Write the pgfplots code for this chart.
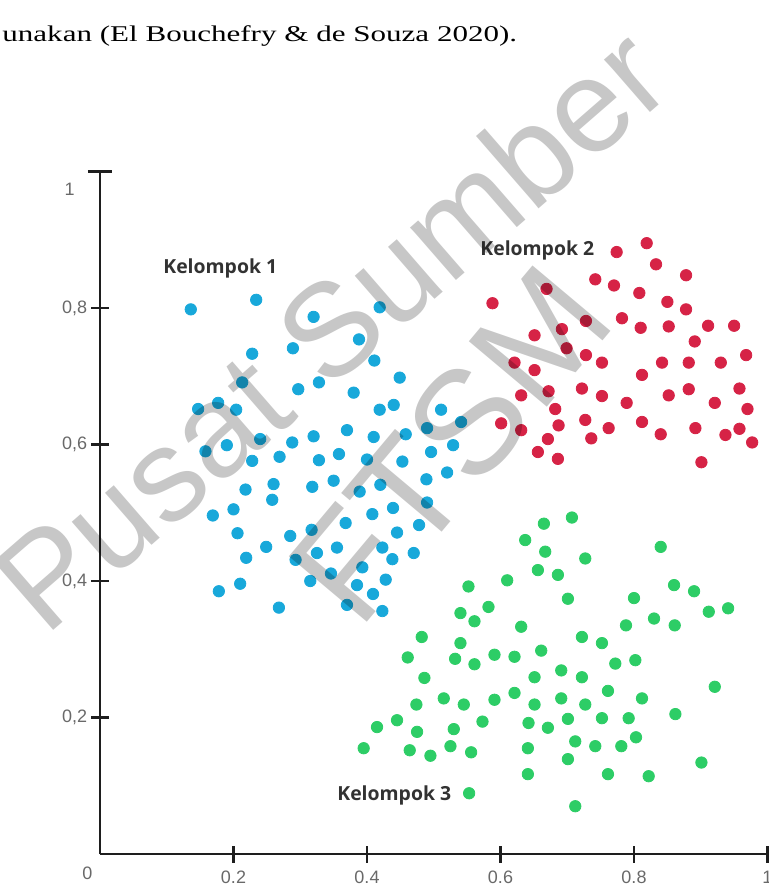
\documentclass[border=0pt]{standalone}
\usepackage{graphicx}
\usepackage{fontspec}
\setmainfont{Liberation Serif}
\newfontfamily\ticksf{Liberation Sans}
\newfontfamily\labsf{Open Sans}
\usepackage{pgfplots}
\pgfplotsset{compat=1.18}
\definecolor{cblue}{RGB}{24,168,218}
\definecolor{cred}{RGB}{214,35,70}
\definecolor{cgreen}{RGB}{45,205,102}
\definecolor{axiscol}{RGB}{30,30,30}
\definecolor{tickcol}{RGB}{105,105,105}
\definecolor{labcol}{RGB}{50,50,50}
\begin{document}
\begin{tikzpicture}
\begin{axis}[
  at={(50pt,-427pt)}, anchor=south west,
  scale only axis, width=333.75pt, height=341.25pt,
  xmin=0, xmax=1, ymin=0, ymax=1,
  axis lines=left,
  axis line style={-, line width=1.4pt, color=axiscol},
  clip=false,
  xtick={0.2,0.4,0.6,0.8,1}, xticklabels={0.2,0.4,0.6,0.8,1},
  ytick={0.2,0.4,0.6,0.8}, yticklabels={{0,2},{0,4},{0,6},{0,8}},
  extra y ticks={1}, extra y tick labels={},
  extra y tick style={major tick length=12pt},
  tick align=center, major tick length=8.5pt,
  every tick/.style={line width=1.4pt, color=axiscol},
  xticklabel style={anchor=north, inner sep=0pt, yshift=-4pt,
    font=\ticksf\fontsize{9}{9}\selectfont, text=tickcol},
  yticklabel style={anchor=east, inner sep=0pt, xshift=-2pt,
    font=\ticksf\fontsize{9}{9}\selectfont, text=tickcol},
]
% Kelompok 1
\addplot[only marks, mark=*, mark size=2.85pt, color=cblue, mark options={draw=cblue, fill=cblue}] coordinates {
(0.136,0.798) (0.234,0.812) (0.320,0.787) (0.419,0.801) (0.228,0.733) (0.289,0.741)
(0.388,0.754) (0.411,0.723) (0.213,0.691) (0.297,0.681) (0.328,0.691) (0.380,0.676)
(0.449,0.698) (0.147,0.652) (0.177,0.661) (0.204,0.651) (0.419,0.651) (0.440,0.658)
(0.511,0.651) (0.541,0.633) (0.240,0.608) (0.190,0.599) (0.158,0.590) (0.288,0.603)
(0.320,0.612) (0.370,0.621) (0.410,0.611) (0.458,0.615) (0.490,0.624) (0.529,0.599)
(0.228,0.576) (0.269,0.582) (0.328,0.577) (0.358,0.586) (0.400,0.578) (0.453,0.575)
(0.496,0.589) (0.520,0.559) (0.218,0.534) (0.260,0.542) (0.258,0.519) (0.318,0.538)
(0.350,0.547) (0.389,0.531) (0.420,0.541) (0.489,0.549) (0.490,0.515) (0.169,0.496)
(0.200,0.505) (0.408,0.498) (0.439,0.507) (0.206,0.470) (0.285,0.466) (0.317,0.475)
(0.368,0.485) (0.445,0.471) (0.478,0.482) (0.249,0.450) (0.219,0.434) (0.293,0.431)
(0.325,0.441) (0.355,0.449) (0.423,0.449) (0.438,0.432) (0.470,0.441) (0.346,0.411)
(0.393,0.420) (0.315,0.400) (0.210,0.396) (0.178,0.385) (0.385,0.394) (0.428,0.402)
(0.409,0.381) (0.268,0.361) (0.370,0.365) (0.423,0.356)
};
% Kelompok 2
\addplot[only marks, mark=*, mark size=2.85pt, color=cred, mark options={draw=cred, fill=cred}] coordinates {
(0.774,0.882) (0.819,0.895) (0.833,0.864) (0.878,0.848) (0.742,0.842) (0.770,0.833)
(0.669,0.828) (0.588,0.807) (0.808,0.822) (0.850,0.809) (0.878,0.798) (0.728,0.781)
(0.782,0.785) (0.810,0.771) (0.852,0.773) (0.911,0.774) (0.950,0.774) (0.651,0.760)
(0.692,0.769) (0.891,0.751) (0.699,0.741) (0.728,0.731) (0.752,0.720) (0.621,0.720)
(0.651,0.709) (0.842,0.720) (0.882,0.720) (0.930,0.720) (0.968,0.731) (0.812,0.702)
(0.631,0.672) (0.672,0.678) (0.722,0.682) (0.752,0.671) (0.789,0.661) (0.852,0.672)
(0.882,0.681) (0.958,0.682) (0.921,0.661) (0.970,0.652) (0.682,0.652) (0.601,0.631)
(0.631,0.621) (0.687,0.628) (0.727,0.636) (0.762,0.624) (0.812,0.633) (0.840,0.615)
(0.892,0.624) (0.937,0.614) (0.958,0.623) (0.977,0.603) (0.671,0.608) (0.736,0.609)
(0.656,0.589) (0.686,0.579) (0.901,0.574)
};
% Kelompok 3
\addplot[only marks, mark=*, mark size=2.85pt, color=cgreen, mark options={draw=cgreen, fill=cgreen}] coordinates {
(0.707,0.493) (0.665,0.484) (0.637,0.460) (0.667,0.443) (0.727,0.433) (0.840,0.450)
(0.656,0.416) (0.686,0.409) (0.610,0.401) (0.552,0.392) (0.701,0.374) (0.800,0.375)
(0.860,0.394) (0.890,0.385) (0.912,0.355) (0.941,0.360) (0.582,0.362) (0.540,0.353)
(0.561,0.341) (0.631,0.333) (0.788,0.335) (0.830,0.345) (0.861,0.335) (0.482,0.318)
(0.540,0.309) (0.722,0.318) (0.752,0.309) (0.461,0.288) (0.532,0.286) (0.561,0.278)
(0.591,0.292) (0.621,0.289) (0.661,0.298) (0.772,0.279) (0.802,0.284) (0.486,0.258)
(0.651,0.259) (0.691,0.269) (0.722,0.259) (0.921,0.245) (0.761,0.239) (0.812,0.228)
(0.474,0.219) (0.515,0.228) (0.545,0.219) (0.591,0.226) (0.621,0.236) (0.651,0.219)
(0.691,0.228) (0.727,0.219) (0.862,0.205) (0.415,0.186) (0.445,0.196) (0.475,0.179)
(0.530,0.183) (0.573,0.194) (0.642,0.192) (0.671,0.185) (0.701,0.198) (0.752,0.199)
(0.792,0.199) (0.803,0.171) (0.395,0.155) (0.464,0.152) (0.495,0.144) (0.525,0.158)
(0.556,0.149) (0.641,0.155) (0.712,0.165) (0.742,0.158) (0.781,0.158) (0.701,0.139)
(0.901,0.134) (0.641,0.117) (0.761,0.117) (0.822,0.114) (0.553,0.089) (0.712,0.070)
};
\end{axis}
\begin{scope}[x=0.5pt,y=-0.5pt]
  \node[anchor=base west, inner sep=0pt] at (2,41.7)
    {\scalebox{1.38}[1]{\fontsize{11.25}{11.25}\selectfont unakan (El Bouchefry \& de Souza 2020).}};
  \node[anchor=center, inner sep=0pt, font=\ticksf\fontsize{9}{9}\selectfont, text=tickcol] at (87.5,873.5) {0};
  \node[anchor=east, inner sep=0pt, font=\ticksf\fontsize{9}{9}\selectfont, text=tickcol] at (75,189) {1};
  \node[anchor=base west, inner sep=0pt, font=\labsf\bfseries\fontsize{9.7}{9.7}\selectfont, text=labcol] at (163,273) {Kelompok 1};
  \node[anchor=base west, inner sep=0pt, font=\labsf\bfseries\fontsize{9.7}{9.7}\selectfont, text=labcol] at (480,255) {Kelompok 2};
  \node[anchor=base west, inner sep=0pt, font=\labsf\bfseries\fontsize{9.7}{9.7}\selectfont, text=labcol] at (337,800) {Kelompok 3};
  \node[rotate=41, inner sep=0pt, text=black, text opacity=0.22,
        font=\ticksf\fontsize{66}{66}\selectfont] at (330,328) {Pusat Sumber};
  \node[rotate=50, inner sep=0pt, text=black, text opacity=0.22,
        font=\ticksf\fontsize{74}{74}\selectfont] at (450,444) {FTSM};
\end{scope}
\pgfresetboundingbox
\path[use as bounding box] (0pt,0pt) rectangle (384pt,-442.5pt);
\end{tikzpicture}
\end{document}
